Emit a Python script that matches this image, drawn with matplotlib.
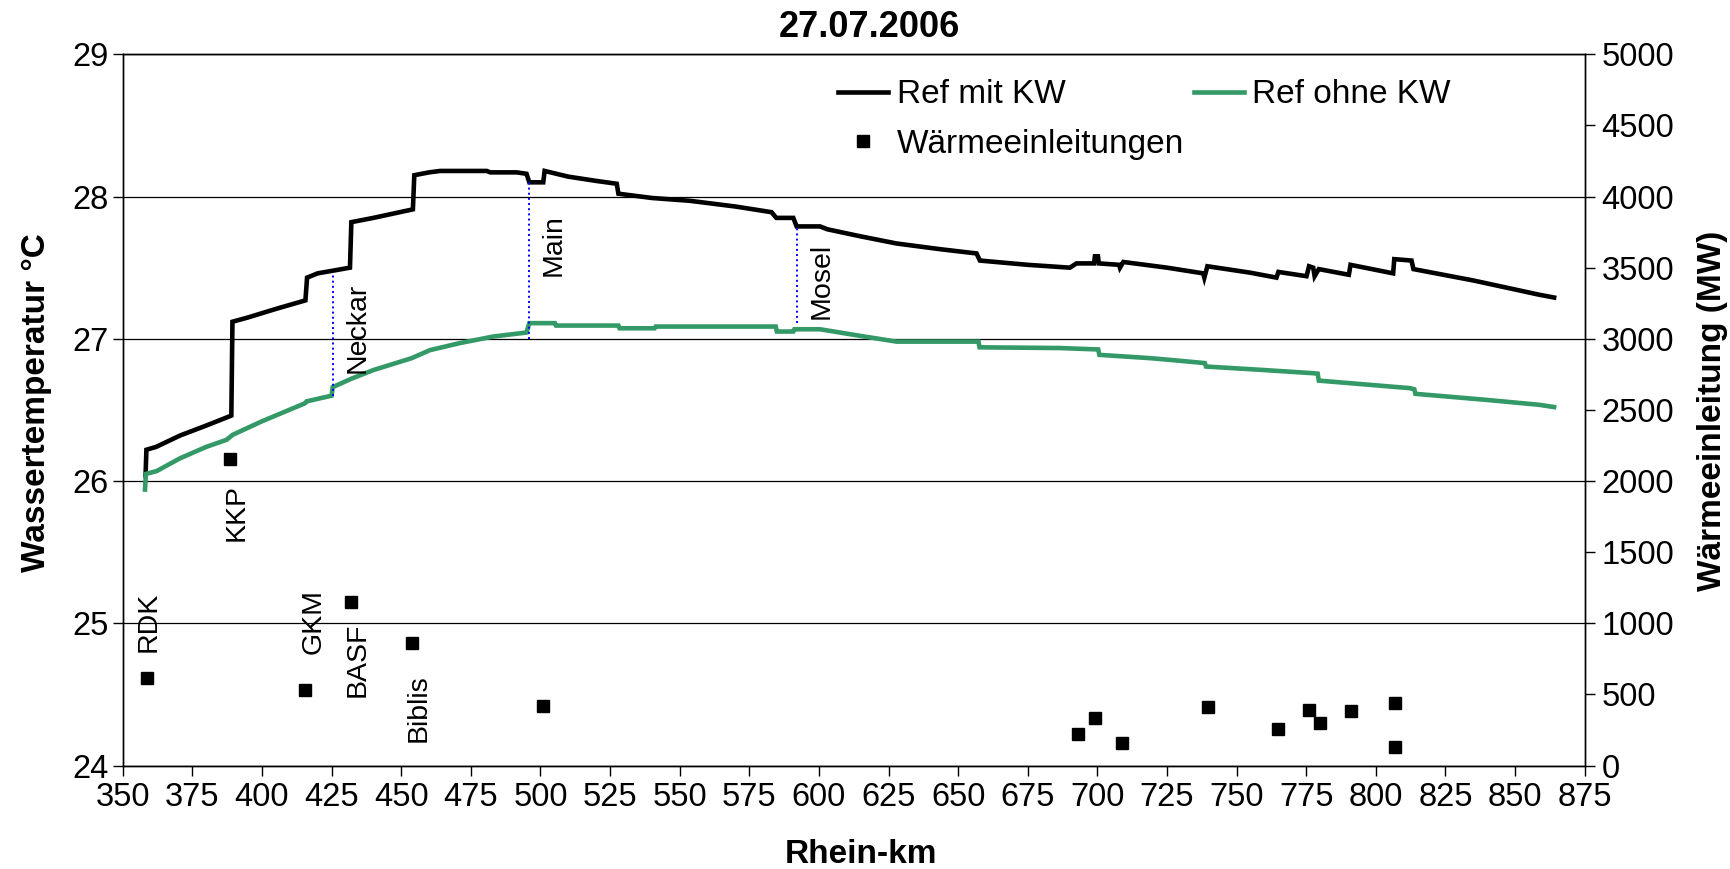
import matplotlib
matplotlib.use("Agg")
import matplotlib.pyplot as plt
from matplotlib.lines import Line2D

plt.rcParams["font.family"] = ["Liberation Sans", "DejaVu Sans"]
plt.rcParams["font.size"] = 20

# Ref mit KW (water temperature with power plants)
km_mit = [358.2, 358.5, 362, 370.6, 380, 389.0, 389.4, 395, 405, 415.6, 416.2, 420,
          431.6, 432.1, 440, 454.2, 454.7, 460, 464, 480.7, 482, 491.5, 495, 496, 501,
          501.5, 510, 520, 527.4, 528, 540, 553.7, 570, 583, 584.7, 590.8, 592, 600.4,
          603, 615, 627.9, 643.5, 656.6, 657.8, 675, 690.1, 692.5, 698.8, 699.1, 700.2,
          700.5, 707.8, 708.1, 709.3, 725, 738.0, 738.4, 739.5, 754.8, 764.3, 765, 775.1,
          776, 777.5, 778, 779.5, 790.3, 790.9, 806.2, 806.6, 812.8, 813.5, 835, 858.6, 864]
temp_mit = [26.04, 26.22, 26.24, 26.32, 26.39, 26.46, 27.12, 27.15, 27.21, 27.27, 27.43, 27.46,
            27.50, 27.82, 27.85, 27.91, 28.15, 28.17, 28.18, 28.18, 28.17, 28.17, 28.16, 28.10, 28.10,
            28.18, 28.14, 28.11, 28.09, 28.02, 27.99, 27.97, 27.93, 27.89, 27.85, 27.85, 27.79, 27.79,
            27.77, 27.72, 27.67, 27.63, 27.60, 27.55, 27.52, 27.50, 27.53, 27.53, 27.58, 27.58,
            27.53, 27.52, 27.50, 27.54, 27.50, 27.46, 27.43, 27.51, 27.465, 27.43, 27.47, 27.44,
            27.51, 27.50, 27.44, 27.49, 27.45, 27.52, 27.46, 27.56, 27.55, 27.49, 27.41, 27.31, 27.29]

# Ref ohne KW (water temperature without power plants)
km_ohne = [358.0, 358.3, 362.2, 370.6, 380, 387.3, 389.5, 400, 415.5, 416, 425, 425.4, 432.2,
           440, 453.8, 460.3, 471.1, 483.1, 495, 496, 505.2, 505.6, 528, 528.4, 541, 541.4,
           584.5, 584.9, 590.8, 591.2, 600.4, 615, 627.9, 657.3, 657.7, 686.5, 700.3, 700.7,
           718.8, 725.9, 738.6, 739, 758.4, 777.5, 779.1, 779.5, 812.2, 813.8, 814.2, 840, 858.6, 864]
temp_ohne = [25.94, 26.05, 26.07, 26.16, 26.24, 26.29, 26.325, 26.42, 26.547, 26.56, 26.60, 26.66, 26.72,
             26.78, 26.864, 26.92, 26.97, 27.016, 27.044, 27.11, 27.11, 27.093, 27.093, 27.074, 27.074, 27.086,
             27.086, 27.051, 27.051, 27.067, 27.067, 27.02, 26.98, 26.98, 26.94, 26.935, 26.925, 26.887,
             26.864, 26.852, 26.829, 26.805, 26.782, 26.758, 26.755, 26.706, 26.653, 26.645, 26.613, 26.57,
             26.536, 26.52]

# Waermeeinleitungen (heat discharges, MW)
km_heat = [358.6, 388.5, 415.5, 431.9, 453.8, 500.8, 693.1, 699.2, 709.0, 739.6, 765.0, 776.0,
           780.1, 791.0, 807.0, 807.0]
mw_heat = [612, 2156, 530, 1151, 859, 418, 221, 332, 160, 411, 259, 388, 299, 383, 437, 130]

# tributary inflows: (name, km, temp bottom, temp top, label km, label temp)
tributaries = [("Neckar", 425.4, 26.60, 27.46, 434.3, 27.08),
               ("Main", 496.0, 27.00, 28.12, 504.9, 27.66),
               ("Mosel", 592.0, 27.11, 27.79, 600.8, 27.41)]

# power plant labels: (name, km, temp)
plants = [("RDK", 359.2, 25.01), ("KKP", 390.9, 25.78), ("GKM", 418.4, 25.01),
          ("BASF", 434.3, 24.74), ("Biblis", 456.4, 24.40)]

green = "#339966"

fig = plt.figure(figsize=(17.31, 8.69), dpi=100)
ax = fig.add_axes([0.0709, 0.1191, 0.8446, 0.8184])
ax2 = ax.twinx()

ax.plot(km_mit, temp_mit, color="black", lw=3.3, solid_joinstyle="miter", zorder=3)
ax.plot(km_ohne, temp_ohne, color=green, lw=3.3, solid_joinstyle="miter", zorder=3)

for name, km, t0, t1, lx, ly in tributaries:
    ax.plot([km, km], [t0, t1], color="blue", lw=1.4, ls=":", zorder=4)
    ax.text(lx, ly, name, rotation=90, ha="center", va="center", fontsize=20.5)

for name, km, t in plants:
    ax.text(km, t, name, rotation=90, ha="center", va="center", fontsize=20.5)

ax2.plot(km_heat, mw_heat, ls="none", marker="s", color="black", ms=8.5)

ax.set_xlim(350, 875)
ax.set_ylim(24, 29)
ax.set_xticks(range(350, 876, 25))
ax.set_yticks(range(24, 30))
ax2.set_ylim(0, 5000)
ax2.set_yticks(range(0, 5001, 500))

ax.yaxis.grid(True, color="black", lw=0.9)
ax.set_axisbelow(True)
for a in (ax, ax2):
    for s in a.spines.values():
        s.set_color("black")
        s.set_linewidth(1.0)
ax.tick_params(axis="both", direction="out", length=7, width=1, labelsize=23.5)
ax.tick_params(axis="y", pad=3)
ax.tick_params(axis="x", pad=5)
ax2.tick_params(axis="y", direction="out", length=7, width=1, labelsize=23.5, pad=5)

ax.set_xlabel("Rhein-km", fontweight="bold", fontsize=24)
ax.xaxis.set_label_coords(0.505, -0.103)
ax.set_ylabel("Wassertemperatur °C", fontweight="bold", fontsize=24)
ax.yaxis.set_label_coords(-0.0485, 0.51)
ax2.set_ylabel("Wärmeeinleitung (MW)", fontweight="bold", fontsize=24)
ax2.yaxis.set_label_coords(1.077, 0.499)

fig.text(0.502, 0.968, "27.07.2006", ha="center", va="center", fontweight="bold", fontsize=26)

handles = [Line2D([], [], color="black", lw=3.3),
           Line2D([], [], ls="none", marker="s", color="black", ms=8.5),
           Line2D([], [], color=green, lw=3.3)]
labels = ["Ref mit KW", "Wärmeeinleitungen", "Ref ohne KW"]
ax2.legend(handles, labels, ncol=2, loc="upper left", bbox_to_anchor=(0.469, 1.007),
           frameon=False, fontsize=24, handlelength=1.5, handletextpad=0.25,
           columnspacing=0.3, labelspacing=0.55)

fig.savefig("out.png", dpi=100)
